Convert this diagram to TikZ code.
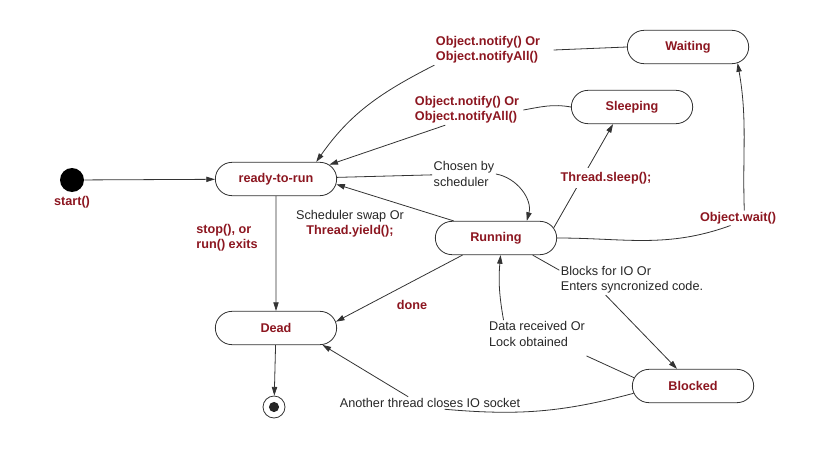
\documentclass[tikz,border=0pt]{standalone}
\usepackage{fontspec}
\setmainfont{Liberation Sans}
\usepackage{xcolor}
\usetikzlibrary{shapes.misc, arrows.meta, positioning}
\definecolor{statered}{RGB}{140,22,32}
\tikzset{
  statebox/.style={
    rounded rectangle, draw=black!80, fill=white,
    minimum width=91pt, minimum height=25pt, inner sep=0pt,
    font=\fontsize{9.5}{11.5}\selectfont\bfseries, text=statered,
    line width=0.6pt,
  },
  startdot/.style={circle, fill=black, minimum size=18pt, inner sep=0pt},
  stopdot/.style={circle, draw=black!80, line width=0.6pt, minimum size=16.5pt, inner sep=0pt},
  arrow/.style={-{Triangle[length=6.5pt,width=4pt]}, line width=0.6pt, black!80},
  link/.style={line width=0.6pt, black!80},
  note/.style={font=\fontsize{9.5}{11.5}\selectfont, text=black!85, inner sep=1pt, align=left},
  callnote/.style={note, font=\fontsize{9.5}{11.5}\selectfont\bfseries, text=statered},
}
\begin{document}
\begin{tikzpicture}[x=0.75pt, y=0.75pt]
  \useasboundingbox (0,0) rectangle (830,465);

  % States
  \node[startdot] (start) at (72,285) {};
  \node[callnote, below=2pt of start] (startlbl) {start()};
  \node[statebox] (ready)    at (276,286) {ready-to-run};
  \node[statebox] (waiting)  at (688,418) {Waiting};
  \node[statebox] (sleeping) at (632,358) {Sleeping};
  \node[statebox] (running)  at (496,227) {Running};
  \node[statebox] (dead)     at (276,137) {Dead};
  \node[statebox] (blocked)  at (693,79)  {Blocked};
  \node[stopdot]  (finish)   at (274,58)  {};
  \fill[black!85] (finish) circle (3.8pt);

  % Transition labels
  \node[callnote] (waitlbl)   at (488,415) {Object.notify() Or\\Object.notifyAll()};
  \node[callnote] (sleeplbl)  at (467,355) {Object.notify() Or\\Object.notifyAll()};
  \node[note]     (chosenlbl) at (464,291) {Chosen by\\scheduler};
  \node[note, align=center] (swaplbl) at (350,241) {Scheduler swap Or\\\textcolor{statered}{\bfseries Thread.yield();}};
  \node[callnote] (stoplbl)   at (227,227) {stop(), or\\run() exits};
  \node[callnote] (waitcall)  at (738,247) {Object.wait()};
  \node[note]     (blockslbl) at (632,185) {Blocks for IO Or\\Enters syncronized code.};
  \node[note]     (datalbl)   at (537,131) {Data received Or\\Lock obtained};
  \node[callnote] (donelbl)   at (412,160) {done};
  \node[note]     (closelbl)  at (430,62)  {Another thread closes IO socket};

  % Transitions
  \draw[arrow] (start) -- (ready);
  \draw[arrow] (ready) -- (dead);
  \draw[arrow] (dead) -- (finish);

  \draw[link] (waiting.west) -- ([xshift=9pt]waitlbl.east);
  \draw[arrow] (waitlbl.south west) to[out=207, in=55] (ready.23);

  \draw[link] (sleeping.west) to[out=170, in=10] ([xshift=2pt]sleeplbl.east);
  \draw[arrow] (sleeplbl.215) -- (ready.15);

  \draw[link] (ready) -- (chosenlbl);
  \draw[arrow] (chosenlbl.east) to[out=-10, in=75] (running.29);
  \draw[arrow] (running.158) -- (ready.-5);

  \draw[arrow] (running.10) -- (sleeping.222);
  \node[callnote, fill=white, inner sep=3pt] (sleepcall) at (606,287) {Thread.sleep();};

  \draw[link] (running.east) to[out=0, in=200] (waitcall.225);
  \draw[arrow] (waitcall.50) to[out=92, in=-80] (waiting.-18);

  \draw[arrow] (running.207) -- (dead.6);

  \draw[link] (running.-25) -- ([yshift=-4pt]blockslbl.north west);
  \draw[arrow] (blockslbl.210) -- (blocked.133);

  \draw[link] (blocked.172) -- ([yshift=-6pt]datalbl.south east);
  \draw[arrow] ([xshift=12pt]datalbl.north west) to[out=100, in=-95] (running.-75);

  \draw[link] (blocked.187) to[out=195, in=-5] ([xshift=11pt]closelbl.south);
  \draw[arrow] (closelbl.164) -- (dead.-20);

\end{tikzpicture}
\end{document}
